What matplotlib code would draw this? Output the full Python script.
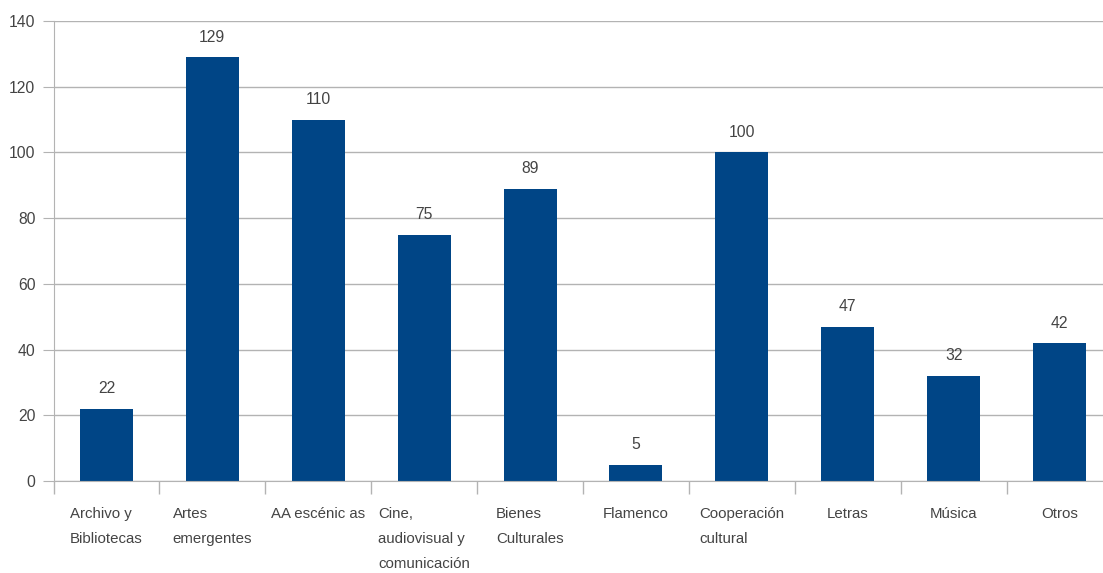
import matplotlib
matplotlib.use("Agg")
import matplotlib.pyplot as plt
import numpy as np

categories = ["Archivo y\nBibliotecas", "Artes\nemergentes", "AA escénic as",
              "Cine,\naudiovisual y\ncomunicación", "Bienes\nCulturales", "Flamenco",
              "Cooperación\ncultural", "Letras", "Música", "Otros"]
values = [22, 129, 110, 75, 89, 5, 100, 47, 32, 42]
yticks = [0, 20, 40, 60, 80, 100, 120, 140]

plt.rcParams['font.family'] = ['Liberation Sans', 'DejaVu Sans']
text_color = "#444444"
grid_color = "#b3b3b3"
bar_color = "#004586"
fs = 10.8

fig = plt.figure(figsize=(11.03, 5.73), dpi=100)
ax = fig.add_axes([53.5/1103, 1-481/573, 1-53.5/1103, (481-21)/573])
ax.set_axisbelow(True)
x = np.arange(len(categories))
bars = ax.bar(x, values, width=0.5, color=bar_color, zorder=2)
for xi, v in zip(x, values):
    ax.annotate(str(v), (xi, v), xytext=(0, 9), textcoords="offset points",
                ha="center", va="bottom", fontsize=fs + 0.5, color=text_color)

ax.set_ylim(0, 140)
ax.set_xlim(-0.5, -0.5 + (1103 - 53.5) / 105.9)
ax.set_yticks(yticks)
ax.set_yticklabels([str(t) for t in yticks], fontsize=fs + 0.5, color=text_color)
ax.yaxis.grid(True, color=grid_color, linewidth=1)
ax.tick_params(axis="y", length=8, color=grid_color, pad=5)

ax.set_xticks(x)
ax.set_xticklabels(categories, fontsize=fs, color=text_color, linespacing=2.0,
                   ha="center", multialignment="left", va="top")
ax.tick_params(axis="x", which="major", length=0, pad=19)
ax.set_xticks(np.arange(-0.5, len(categories) - 0.5, 1.0), minor=True)
ax.tick_params(axis="x", which="minor", length=9, color=grid_color, width=1)

for s in ["top", "right"]:
    ax.spines[s].set_visible(False)
ax.spines["left"].set_color(grid_color)
ax.spines["bottom"].set_color(grid_color)

fig.savefig("out.png", dpi=100)
